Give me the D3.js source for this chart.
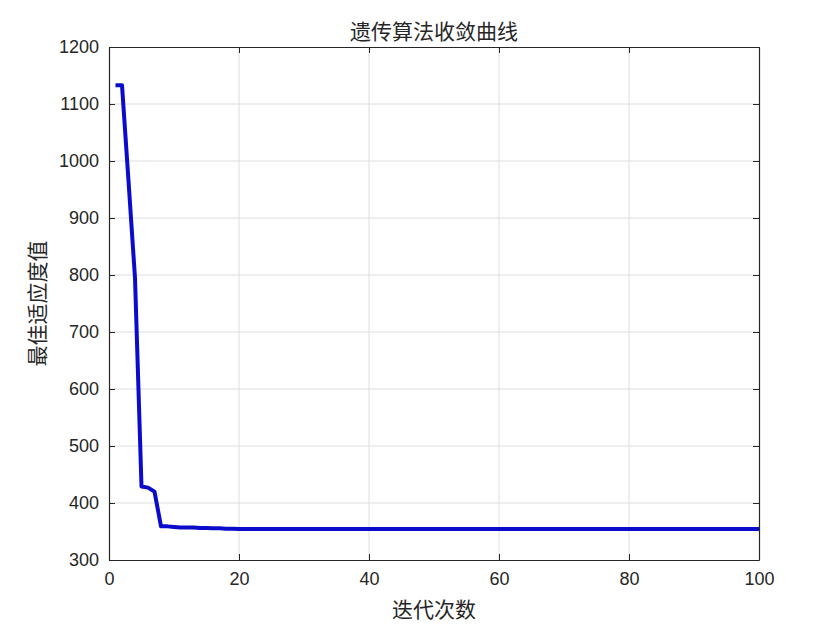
<!DOCTYPE html>
<html><head><meta charset="utf-8">
<script src="https://cdn.jsdelivr.net/npm/d3@7"></script>
<style>body{margin:0;background:#fff;} svg{display:block;}</style>
</head><body>
<svg id="c" width="840" height="630"></svg>
<script>
const iterations = d3.range(1, 101);
const fitness = [1133, 1133, 965, 795, 429, 427, 420, 359, 359, 358,
  357, 357, 357, 356, 356, 355.5, 355.5, 355, 355, 354.5,
  ...Array(80).fill(354.5)];
const xTicks = [0, 20, 40, 60, 80, 100];
const yTicks = [300, 400, 500, 600, 700, 800, 900, 1000, 1100, 1200];
const titleText = "遗传算法收敛曲线";
const xLabel = "迭代次数";
const yLabel = "最佳适应度值";

const svg = d3.select("#c");
const L = 109, R = 759, T = 47, B = 560;
const x = d3.scaleLinear().domain([0, 100]).range([L, R]);
const y = d3.scaleLinear().domain([300, 1200]).range([B, T]);

// grid
svg.append("g").selectAll("line").data(xTicks.slice(1, -1)).join("line")
  .attr("x1", d => x(d)).attr("x2", d => x(d)).attr("y1", T).attr("y2", B)
  .attr("stroke", "#dedede").attr("stroke-width", 1);
svg.append("g").selectAll("line").data(yTicks.slice(1, -1)).join("line")
  .attr("y1", d => y(d)).attr("y2", d => y(d)).attr("x1", L).attr("x2", R)
  .attr("stroke", "#dedede").attr("stroke-width", 1);

// line
svg.append("path").datum(iterations.map((d, i) => [d, fitness[i]]))
  .attr("d", d3.line().x(d => x(d[0])).y(d => y(d[1])))
  .attr("fill", "none").attr("stroke", "#0b0bcc").attr("stroke-width", 4)
  .attr("stroke-linejoin", "round");

const tickLen = 6;
const fmt = d3.format("d");
function axisStyle(g) {
  g.select(".domain").attr("stroke", "#262626").attr("stroke-width", 1.2);
  g.selectAll(".tick line").attr("stroke", "#262626");
  g.selectAll(".tick text").attr("fill", "#262626")
    .attr("font-family", "Liberation Sans, Arial, sans-serif").attr("font-size", 18);
}
svg.append("g").attr("transform", `translate(0,${B})`)
  .call(d3.axisBottom(x).tickValues(xTicks).tickFormat(fmt).tickSizeInner(-tickLen).tickSizeOuter(0).tickPadding(12))
  .call(axisStyle);
svg.append("g").attr("transform", `translate(0,${T})`)
  .call(d3.axisTop(x).tickValues(xTicks).tickSizeInner(-tickLen).tickSizeOuter(0).tickFormat(""))
  .call(axisStyle);
svg.append("g").attr("transform", `translate(${L},0)`)
  .call(d3.axisLeft(y).tickValues(yTicks).tickFormat(fmt).tickSizeInner(-tickLen).tickSizeOuter(0).tickPadding(10))
  .call(axisStyle);
svg.append("g").attr("transform", `translate(${R},0)`)
  .call(d3.axisRight(y).tickValues(yTicks).tickSizeInner(-tickLen).tickSizeOuter(0).tickFormat(""))
  .call(axisStyle);

const cjk = "Noto Sans CJK SC, sans-serif";
svg.append("text").attr("x", (L + R) / 2).attr("y", 39).attr("text-anchor", "middle")
  .attr("font-family", cjk).attr("font-size", 21).attr("fill", "#262626").text(titleText);
svg.append("text").attr("x", (L + R) / 2).attr("y", 617).attr("text-anchor", "middle")
  .attr("font-family", cjk).attr("font-size", 21).attr("fill", "#262626").text(xLabel);
svg.append("text").attr("transform", `translate(45,${(T + B) / 2}) rotate(-90)`)
  .attr("text-anchor", "middle")
  .attr("font-family", cjk).attr("font-size", 21).attr("fill", "#262626").text(yLabel);
</script>
</body></html>
